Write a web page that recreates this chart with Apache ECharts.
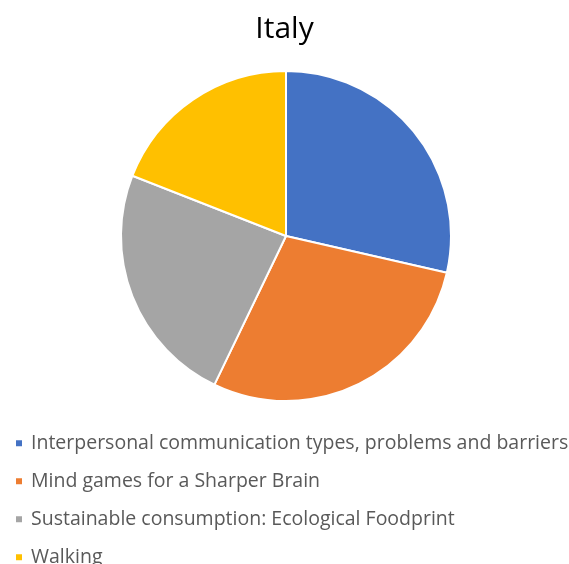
<!DOCTYPE html>
<html>
<head>
<meta charset="utf-8">
<script src="https://cdn.jsdelivr.net/npm/echarts@6/dist/echarts.min.js"></script>
<style>
html,body{margin:0;padding:0;background:#fff;}
#chart{width:569px;height:564px;}
</style>
</head>
<body>
<div id="chart"></div>
<script>
const chartTitle = "Italy";
const categories = [
  "Interpersonal communication types, problems and barriers",
  "Mind games for a Sharper Brain",
  "Sustainable consumption: Ecological Foodprint",
  "Walking"
];
const values = [6, 6, 5, 4];
const colors = ["#4472C4", "#ED7D31", "#A5A5A5", "#FFC000"];

const chart = echarts.init(document.getElementById('chart'), null, {renderer: 'canvas'});
const data = categories.map((c, i) => ({name: c, value: values[i], itemStyle: {color: colors[i]}}));
chart.setOption({
  backgroundColor: '#ffffff',
  animation: false,
  title: {
    text: chartTitle,
    left: 'center',
    top: 9,
    textStyle: {fontFamily: 'Open Sans', fontSize: 30, fontWeight: 'normal', color: '#000000'}
  },
  legend: {
    orient: 'vertical',
    left: 14,
    top: 433,
    height: 300,
    padding: 0,
    itemWidth: 8,
    itemHeight: 8,
    itemGap: 17.5,
    icon: 'rect',
    data: categories,
    textStyle: {fontFamily: 'Open Sans', fontSize: 19.5, color: '#595959', lineHeight: 20.5, padding: [0, 0, 0, 3]}
  },
  series: [{
    type: 'pie',
    center: [286, 236],
    radius: 165,
    startAngle: 90,
    clockwise: true,
    label: {show: false},
    labelLine: {show: false},
    itemStyle: {borderColor: '#ffffff', borderWidth: 2},
    emphasis: {disabled: true},
    data: data
  }]
});
</script>
</body>
</html>
